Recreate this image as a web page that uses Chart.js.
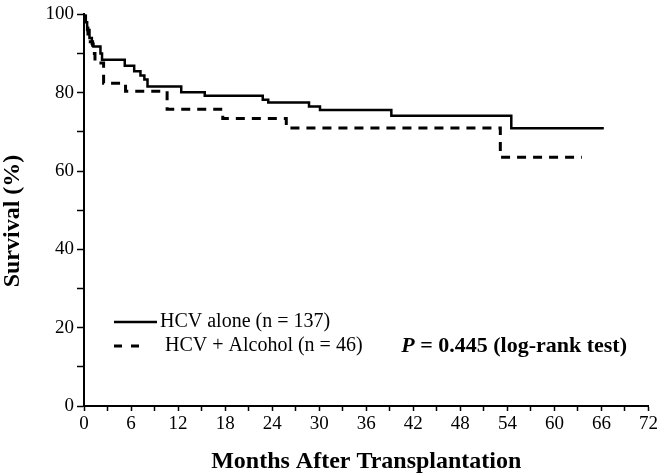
<!DOCTYPE html>
<html>
<head>
<meta charset="utf-8">
<script src="https://cdn.jsdelivr.net/npm/chart.js@4/dist/chart.umd.min.js"></script>
<style>
  html, body { margin: 0; padding: 0; background: #fff; }
  #wrap { width: 660px; height: 476px; }
</style>
</head>
<body>
<div id="wrap"><canvas id="km"></canvas></div>
<script>
// Kaplan-Meier steps (month, survival %)
var aloneMonths = [0, 0.15, 0.4, 0.7, 1.0, 1.2, 2.1, 2.3, 5.2, 6.4, 7.2, 7.7, 8.1, 12.4, 15.4, 22.8, 23.5, 28.7, 30.1, 39.2, 54.5, 66.3];
var aloneSurv   = [100, 98, 96, 94, 92.5, 91.8, 90, 88.4, 86.9, 85.5, 84.4, 83.4, 81.6, 80.1, 79.2, 78.2, 77.5, 76.5, 75.6, 74.1, 70.9, 70.9];

var alcMonths = [0, 0.2, 0.5, 0.8, 1.1, 1.4, 2.5, 5.3, 10.6, 17.7, 25.8, 53.1, 63.5];
var alcSurv   = [100, 97, 95, 93, 90, 87.6, 82.4, 80.4, 75.8, 73.4, 71, 63.5, 63.5];

var seriesLabels = ['HCV alone (n = 137)', 'HCV + Alcohol (n = 46)'];
var pText = ' = 0.445 (log-rank test)';

var xMax = 72, xStep = 3, xLabelEvery = 6;
var yMax = 100, yStep = 10, yLabelEvery = 20;

function toPoints(xs, ys) {
  var pts = [];
  for (var i = 0; i < xs.length; i++) pts.push({x: xs[i], y: ys[i]});
  return pts;
}

var serif = "'Liberation Serif', 'DejaVu Serif', serif";

// legend, p-value and y title drawn straight onto the canvas
var notes = {
  id: 'notes',
  afterDraw: function(chart) {
    var ctx = chart.ctx;
    ctx.save();
    ctx.fillStyle = '#000';
    ctx.strokeStyle = '#000';
    ctx.textBaseline = 'middle';

    // solid sample
    ctx.lineWidth = 2.5;
    ctx.beginPath(); ctx.moveTo(114, 322); ctx.lineTo(157, 322); ctx.stroke();
    // dashed sample
    ctx.lineWidth = 3;
    ctx.beginPath();
    ctx.moveTo(114, 346); ctx.lineTo(122, 346);
    ctx.moveTo(131, 346); ctx.lineTo(139, 346);
    ctx.stroke();

    ctx.font = '20px ' + serif;
    ctx.textAlign = 'left';
    ctx.fillText(seriesLabels[0], 160, 322);
    ctx.fillText(seriesLabels[1], 165, 346);

    ctx.font = 'bold 22px ' + serif;
    var w = ctx.measureText(pText).width;
    ctx.textAlign = 'right';
    ctx.fillText(pText, 627, 346);
    ctx.font = 'italic bold 22px ' + serif;
    ctx.fillText('P', 627 - w, 346);

    // y title
    ctx.translate(13, 221);
    ctx.rotate(-Math.PI / 2);
    ctx.textAlign = 'center';
    ctx.font = 'bold 24px ' + serif;
    ctx.fillText('Survival (%)', 0, 0);
    ctx.restore();
  }
};

var ctx = document.getElementById('km');
var chart = new Chart(ctx, {
  type: 'line',
  data: {
    datasets: [
      {
        label: seriesLabels[0],
        data: toPoints(aloneMonths, aloneSurv),
        borderColor: '#000',
        borderWidth: 2.5,
        stepped: 'before',
        pointRadius: 0,
        fill: false
      },
      {
        label: seriesLabels[1],
        data: toPoints(alcMonths, alcSurv),
        borderColor: '#000',
        borderWidth: 3,
        borderDash: [9, 7],
        stepped: 'before',
        pointRadius: 0,
        fill: false
      }
    ]
  },
  options: {
    responsive: true,
    maintainAspectRatio: false,
    animation: false,
    layout: { padding: { top: 11, right: 9, left: 0, bottom: 0 } },
    plugins: {
      legend: { display: false },
      tooltip: { enabled: false }
    },
    scales: {
      x: {
        type: 'linear',
        min: 0,
        max: xMax,
        afterFit: function(scale) { scale.height = 70; },
        ticks: {
          stepSize: xStep,
          autoSkip: false,
          maxRotation: 0,
          padding: 2,
          color: '#000',
          font: { family: serif, size: 19 },
          callback: function(v) { return v % xLabelEvery === 0 ? v : ''; }
        },
        grid: { drawOnChartArea: false, drawTicks: true, tickLength: 5, color: '#000', tickWidth: 1.5 },
        border: { display: true, color: '#000', width: 2 },
        title: {
          display: true,
          text: 'Months After Transplantation',
          color: '#000',
          font: { family: serif, size: 24, weight: 'bold' },
          padding: { top: 0, bottom: 0 }
        }
      },
      y: {
        min: 0,
        max: yMax,
        afterFit: function(scale) { scale.width = 84; },
        ticks: {
          stepSize: yStep,
          padding: 3,
          color: '#000',
          font: { family: serif, size: 19 },
          callback: function(v) { return v % yLabelEvery === 0 ? v : ''; }
        },
        grid: { drawOnChartArea: false, drawTicks: true, tickLength: 7, color: '#000', tickWidth: 1.5 },
        border: { display: true, color: '#000', width: 2 }
      }
    }
  },
  plugins: [notes]
});
</script>
</body>
</html>
